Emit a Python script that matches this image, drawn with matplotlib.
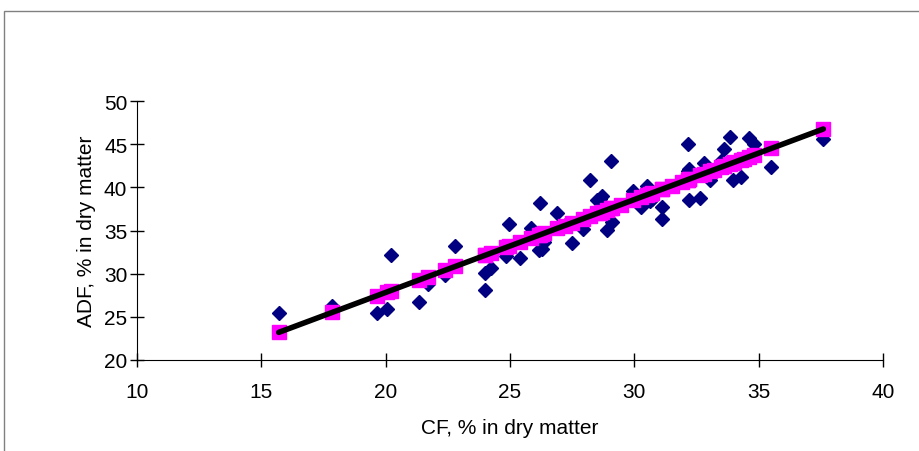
import numpy as np
import matplotlib.pyplot as plt
from matplotlib.patches import Rectangle

plt.rcParams['font.family'] = ['Liberation Sans', 'DejaVu Sans']

# Crude fibre vs acid detergent fibre, % in dry matter
cf = [15.7, 17.85, 19.65, 20.05, 20.2, 21.35, 21.7, 22.4, 22.8,
      24.0, 24.0, 24.25, 24.85, 24.95, 25.4, 25.85, 26.15, 26.2, 26.3,
      26.35, 26.9, 27.2, 27.5, 27.95, 28.2, 28.5, 28.6, 28.7, 28.9,
      29.05, 29.1, 29.45, 29.95, 30.25, 30.5, 30.65, 30.7, 31.1, 31.1,
      31.5, 31.9, 32.15, 32.15, 32.2, 32.2, 32.65, 32.8, 33.05, 33.2,
      33.5, 33.6, 33.85, 33.95, 34.0, 34.3, 34.4, 34.6, 34.8, 35.5, 37.6]
adf = [25.45, 26.3, 25.5, 25.9, 32.2, 26.75, 28.8, 29.8, 33.15,
       28.15, 30.1, 30.7, 32.0, 35.8, 31.8, 35.3, 32.7, 38.2, 32.9,
       33.7, 37.0, 35.6, 33.6, 35.2, 40.85, 38.5, 38.6, 39.0, 35.1,
       43.0, 35.95, 37.9, 39.6, 37.7, 40.2, 38.45, 38.65, 37.75, 36.3,
       40.1, 40.6, 45.0, 41.9, 38.5, 42.1, 38.75, 42.8, 40.8, 42.0,
       43.1, 44.4, 45.8, 40.85, 42.9, 41.25, 43.3, 45.7, 45.0, 42.4, 45.6]

# linear trend, predicted ADF at each CF
slope, intercept = np.polyfit(cf, adf, 1)
cf_sorted = np.sort(cf)
adf_pred = intercept + slope * cf_sorted

fig = plt.figure(figsize=(9.19, 4.52), dpi=100)
ax = fig.add_axes([137/919, 1 - 361/452, (883 - 137)/919, (361 - 102)/452])

ax.plot(cf, adf, linestyle='none', marker='D', markersize=7,
        color='#000080', zorder=3)
ax.plot(cf_sorted, adf_pred, linestyle='none', marker='s', markersize=10,
        color='#FF00FF', zorder=4)
ax.plot(cf_sorted, adf_pred, color='black', linewidth=4,
        solid_capstyle='round', zorder=5)

ax.set_xlim(10, 40)
ax.set_ylim(20, 50)
ax.set_xticks(range(10, 41, 5))
ax.set_yticks(range(20, 51, 5))
ax.spines['top'].set_visible(False)
ax.spines['right'].set_visible(False)
ax.tick_params(direction='inout', length=10, width=1, labelsize=15)
ax.tick_params(axis='x', pad=11)
ax.tick_params(axis='y', pad=2)
ax.set_xlabel('CF, % in dry matter', fontsize=15, labelpad=12)
ax.set_ylabel('ADF, % in dry matter', fontsize=15, labelpad=6)

# outer chart frame
fig.patches.append(Rectangle((4/919, -0.1), 1.0, 1 - 12/452 + 0.1,
                             transform=fig.transFigure, fill=False,
                             edgecolor='#808080', linewidth=1))

fig.savefig('out.png', dpi=100)
